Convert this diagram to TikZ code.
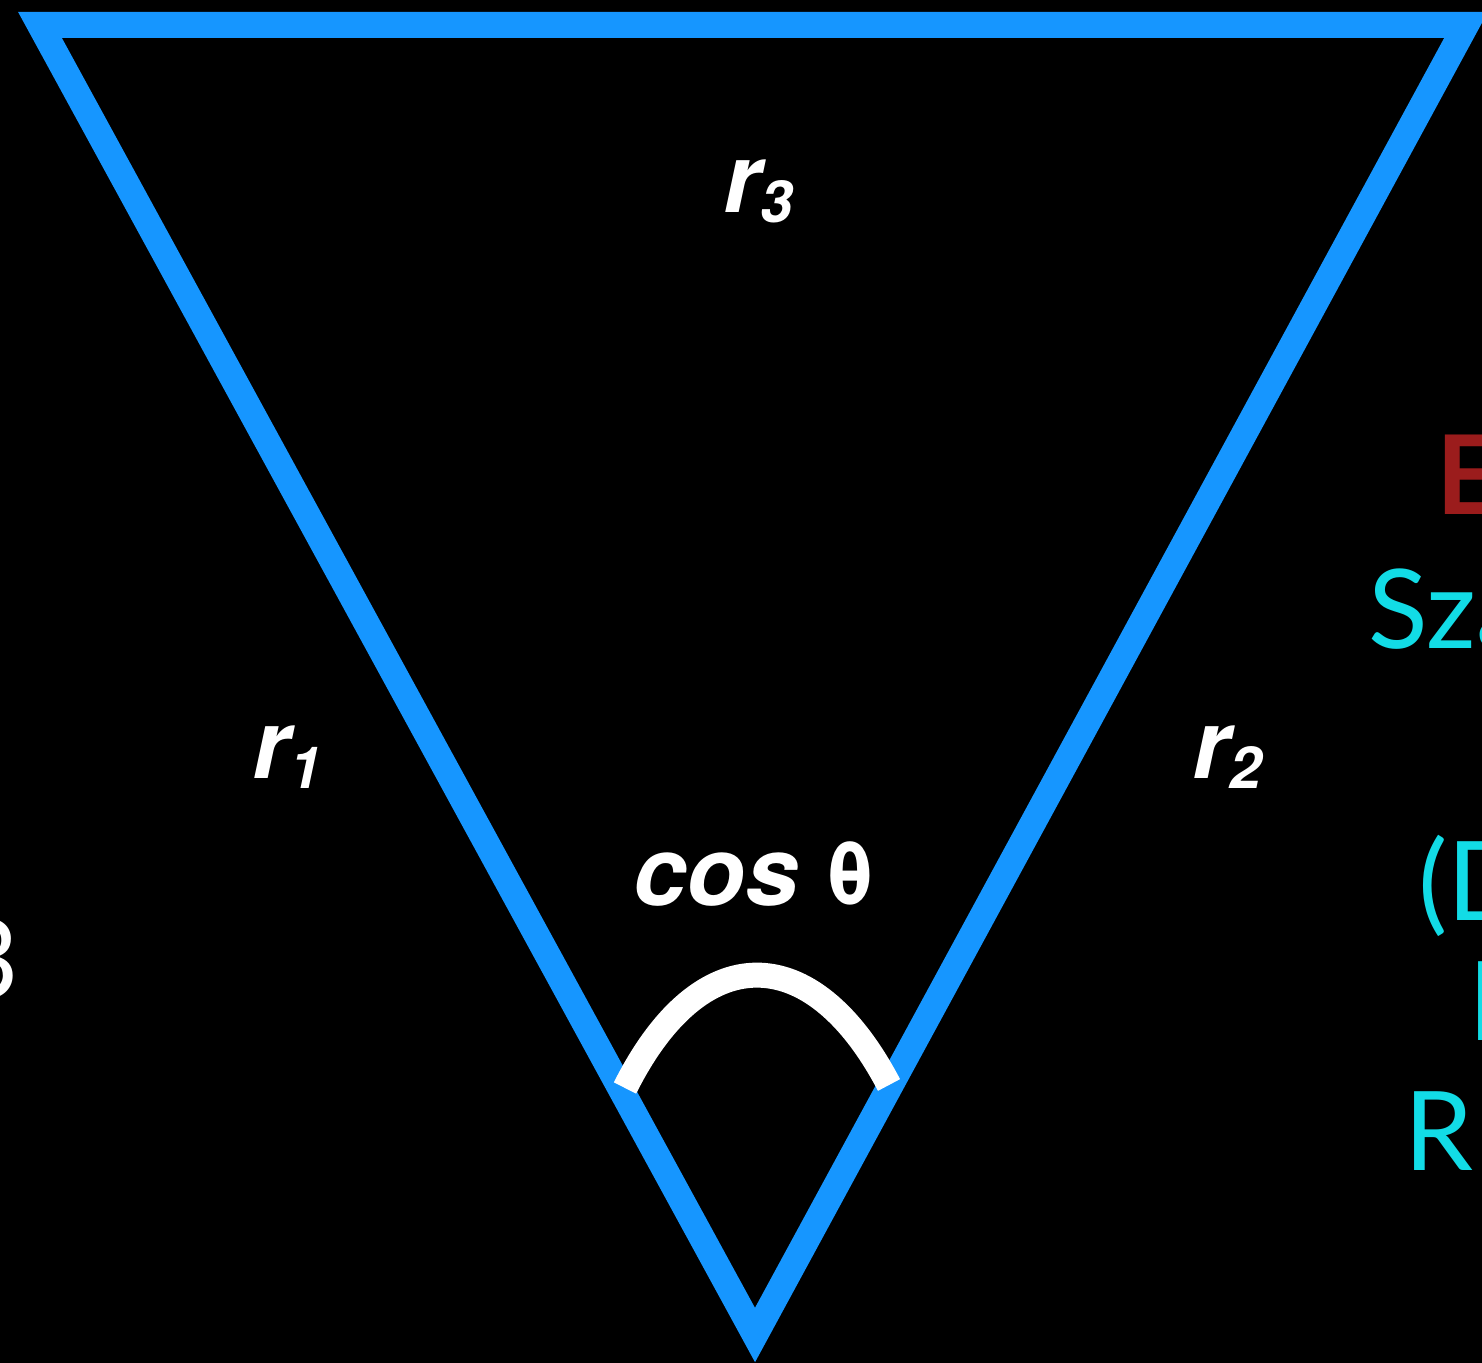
\documentclass[tikz,border=0pt]{standalone}
\usepackage{fontspec}
\setmainfont{TeX Gyre Heros}
\newfontfamily\slidefont{Lato}
\usepackage{tikz}
\usetikzlibrary{positioning}
\definecolor{triblue}{RGB}{22,150,255}
\definecolor{slidecyan}{RGB}{18,220,230}
\definecolor{slidered}{RGB}{155,28,28}
\newcommand{\rlab}[1]{r\raisebox{-5pt}{\fontsize{29}{29}\selectfont #1}}

\begin{document}
\begin{tikzpicture}[x=0.5pt,y=-0.5pt,
    edge/.style={draw=triblue, line width=13pt},
    arcline/.style={draw=white, line width=12.5pt},
    lab/.style={text=white, font=\bfseries\itshape\fontsize{48}{48}\selectfont, inner sep=0pt},
    side/.style={font=\slidefont\fontsize{55}{55}\selectfont, inner sep=0pt, text=slidecyan}]
            \useasboundingbox (0,0) rectangle (1482,1363);
            \clip (0,0) rectangle (1482,1363);
            \fill[black] (0,0) rectangle (1482,1363);

            % Triangle
            \coordinate (tl) at (40,25);
            \coordinate (tr) at (1466,25);
            \coordinate (apex) at (755,1335);
            \draw[edge] (tl) -- (tr) -- (apex) -- cycle;

            % Angle arc
            \coordinate (arcl) at (625,1088);
            \coordinate (arcr) at (889,1085);
            \draw[arcline] (arcl) .. controls (700,938) and (812,938) .. (arcr);

            % Labels
            \node[lab, anchor=base] (r3) at (758,213) {\rlab{3}};
            \node[lab, anchor=base] (r1) at (287,778) {\rlab{1}};
            \node[lab, anchor=base] (r2) at (1227,778) {\rlab{2}};
            \node[lab, anchor=base] (cos) at (754,905) {cos {\upshape\fontsize{44}{44}\selectfont θ}};

            % Cut-off slide text
            \node[side, anchor=base east, text=white] (three) at (20,998) {3};
            \node[side, anchor=base west, text=slidered, font=\slidefont\bfseries\fontsize{55}{55}\selectfont] (e) at (1436,515) {E};
            \node[side, anchor=base west] (sza) at (1368,648) {Sza};
            \node[side, anchor=base west] (paren) at (1418,920) {(D};
            \node[side, anchor=base west] (ii) at (1468,1040) {I};
            \node[side, anchor=base west] (rr) at (1404,1170) {R};
        \end{tikzpicture}
\end{document}
